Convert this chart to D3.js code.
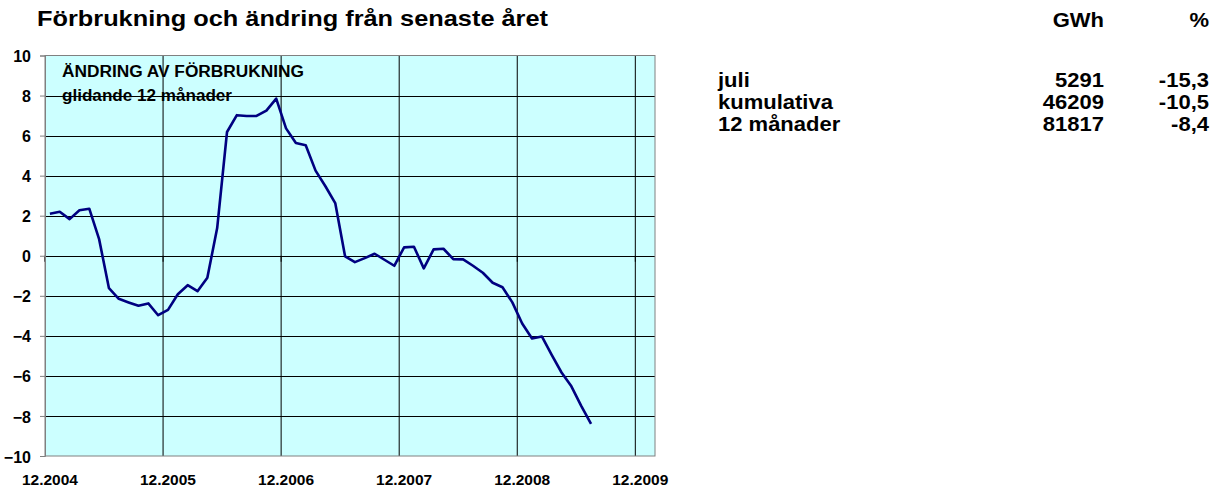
<!DOCTYPE html>
<html><head><meta charset="utf-8">
<script src="https://cdn.jsdelivr.net/npm/d3@7"></script>
<style>
html,body{margin:0;padding:0;background:#fff;}
svg{display:block;font-family:"Liberation Sans",Arial,sans-serif;font-weight:bold;}
</style></head>
<body>
<svg id="c" width="1218" height="494"></svg>
<script>
// ---- data ----
const startMonth = 12, startYear = 2004, monthCount = 62;
const tickLabels = ["12.2004","12.2005","12.2006","12.2007","12.2008","12.2009"];
const yTicks = [-10,-8,-6,-4,-2,0,2,4,6,8,10];
const values = [2.1,2.2,1.83,2.27,2.35,0.83,-1.62,-2.15,-2.33,-2.5,-2.38,-2.97,
  -2.7,-1.92,-1.47,-1.77,-1.1,1.38,6.18,7.02,6.98,6.98,7.25,7.85,
  6.36,5.63,5.52,4.25,3.47,2.63,-0.03,-0.32,-0.12,0.1,-0.2,-0.5,
  0.42,0.45,-0.63,0.32,0.35,-0.17,-0.18,-0.5,-0.85,-1.35,-1.57,-2.33,
  -3.38,-4.13,-4.03,-4.95,-5.83,-6.52,-7.5,-8.4];
const tableHeaders = ["GWh","%"];
const tableRows = ["juli","kumulativa","12 månader"];
const tableGWh = ["5291","46209","81817"];
const tablePct = ["-15,3","-10,5","-8,4"];
const title = "Förbrukning och ändring från senaste året";
const innerTitle = ["ÄNDRING AV FÖRBRUKNING","glidande 12 månader"];

// month keys
const months = [];
for (let i = 0; i < monthCount; i++) {
  const m = ((startMonth - 1 + i) % 12) + 1;
  const y = startYear + Math.floor((startMonth - 1 + i) / 12);
  months.push(m + "." + y);
}

const svg = d3.select("#c");
const L = 45, R = 655, T = 55.5, B = 456;
const x = d3.scaleBand().domain(months).range([L, R]).padding(0);
const y = d3.scaleLinear().domain([-10, 10]).range([B, T]);

// title
svg.append("text").attr("x", 37).attr("y", 26).attr("font-size", 22)
  .attr("textLength", 511).attr("lengthAdjust", "spacingAndGlyphs").attr("fill", "#000").text(title);

// plot bg
svg.append("rect").attr("x", L).attr("y", T).attr("width", R - L).attr("height", B - T).attr("fill", "#CCFFFF");

// horizontal grid
svg.append("g").selectAll("line").data(yTicks.filter(d => d > -10 && d < 10)).join("line")
  .attr("x1", L).attr("x2", R).attr("y1", d => Math.round(y(d)) + 0.5).attr("y2", d => Math.round(y(d)) + 0.5)
  .attr("stroke", "#000").attr("stroke-width", 1);

// vertical grid at category boundaries
svg.append("g").selectAll("line").data(tickLabels.slice(1)).join("line")
  .attr("x1", d => x(d)).attr("x2", d => x(d)).attr("y1", T).attr("y2", B)
  .attr("stroke", "#000").attr("stroke-width", 1);

// border
svg.append("rect").attr("x", L).attr("y", T).attr("width", R - L).attr("height", B - T)
  .attr("fill", "none").attr("stroke", "#808080").attr("stroke-width", 1);

// x ticks at zero line
svg.append("g").selectAll("line").data(tickLabels).join("line")
  .attr("x1", d => x(d)).attr("x2", d => x(d)).attr("y1", y(0)).attr("y2", y(0) + 6)
  .attr("stroke", "#000");

// y axis ticks
const yAxis = d3.axisLeft(y).tickValues(yTicks).tickSize(5).tickPadding(9).tickFormat(d3.format("d"));
const ya = svg.append("g").attr("transform", `translate(${L},0)`).call(yAxis);
ya.select(".domain").attr("stroke", "#808080");
ya.selectAll(".tick line").attr("stroke", "#808080");
ya.selectAll("text").attr("font-size", 16).attr("font-family", '"Liberation Sans",Arial,sans-serif')
  .attr("font-weight", "bold").attr("fill", "#000").attr("dy", "0.38em");

// x labels
svg.append("g").selectAll("text").data(tickLabels).join("text")
  .attr("x", d => x(d) + x.bandwidth() / 2).attr("y", 485).attr("text-anchor", "middle")
  .attr("font-size", 15.5).attr("fill", "#000").text(d => d);

// line
const line = d3.line().x((d, i) => x(months[i]) + x.bandwidth() / 2).y(d => y(d));
svg.append("path").datum(values).attr("d", line).attr("fill", "none")
  .attr("stroke", "#000080").attr("stroke-width", 2.6).attr("stroke-linejoin", "round");

// inner title
svg.append("text").attr("x", 62).attr("y", 77).attr("font-size", 16)
  .attr("textLength", 242).attr("lengthAdjust", "spacingAndGlyphs").attr("fill", "#000").text(innerTitle[0]);
svg.append("text").attr("x", 62).attr("y", 101).attr("font-size", 16)
  .attr("textLength", 170).attr("lengthAdjust", "spacingAndGlyphs").attr("fill", "#000").text(innerTitle[1]);

// table (slightly widened glyphs like the reference)
const colX = [1104, 1209];
const sx = 1.1;
function tText(g, tx, ty, anchor, s) {
  g.append("g").attr("transform", `translate(${tx},${ty}) scale(${sx},1)`)
    .append("text").attr("text-anchor", anchor).attr("font-size", 20).attr("fill", "#000").text(s);
}
const tg = svg.append("g");
tableHeaders.forEach((h, i) => tText(tg, colX[i], 27, "end", h));
const rowY = d3.scalePoint().domain(tableRows).range([87, 131]);
tableRows.forEach((r, i) => {
  tText(tg, 718, rowY(r), "start", r);
  tText(tg, colX[0], rowY(r), "end", tableGWh[i]);
  tText(tg, colX[1], rowY(r), "end", tablePct[i]);
});
</script>
</body></html>
